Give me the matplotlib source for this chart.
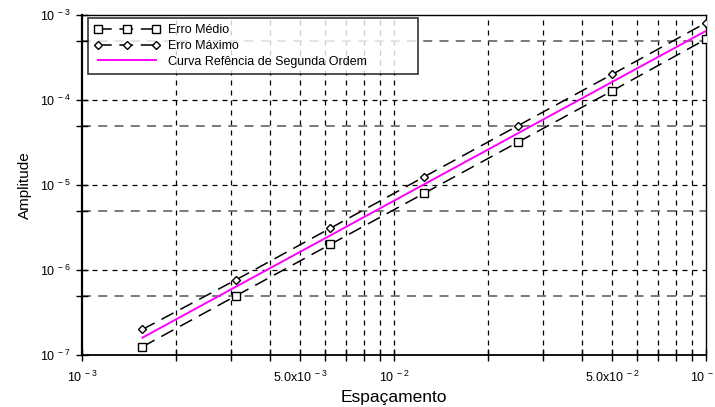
import matplotlib
matplotlib.use("Agg")
import matplotlib.pyplot as plt
from matplotlib.ticker import FixedLocator, NullFormatter

plt.rcParams['font.family'] = ['Liberation Sans', 'DejaVu Sans']
plt.rcParams['mathtext.fontset'] = 'custom'
plt.rcParams['mathtext.rm'] = 'Liberation Sans'
plt.rcParams['mathtext.it'] = 'Liberation Sans'
plt.rcParams['mathtext.default'] = 'regular'

# Data
espacamento = [0.0015625, 0.003125, 0.00625, 0.0125, 0.025, 0.05, 0.1]
erro_medio = [1.25e-7, 5.0e-7, 2.0e-6, 8.0e-6, 3.2e-5, 1.28e-4, 5.2e-4]
erro_maximo = [2.0e-7, 7.7e-7, 3.1e-6, 1.25e-5, 5.0e-5, 2.0e-4, 8.1e-4]
curva_ref = [1.6e-7, 6.4e-7, 2.55e-6, 1.02e-5, 4.07e-5, 1.63e-4, 6.5e-4]

x_major = [1e-3, 5e-3, 1e-2, 5e-2, 1e-1]
x_major_labels = ['$10^{\\ -3}$', '$5.0x10^{\\ -3}$', '$10^{\\ -2}$', '$5.0x10^{\\ -2}$', '$10^{\\ -1}$']
y_major = [1e-7, 1e-6, 1e-5, 1e-4, 1e-3]
y_major_labels = ['$10^{\\ -7}$', '$10^{\\ -6}$', '$10^{\\ -5}$', '$10^{\\ -4}$', '$10^{\\ -3}$']
y_half = [5e-7, 5e-6, 5e-5, 5e-4]

fig = plt.figure(figsize=(7.15, 4.07), dpi=100)
ax = fig.add_axes([0.1147, 0.1278, 0.8727, 0.8353])
ax.set_xscale('log')
ax.set_yscale('log')
ax.set_xlim(1e-3, 1e-1)
ax.set_ylim(1e-7, 1e-3)

# grid lines
x_minor = [m * d for d in (1e-3, 1e-2) for m in range(2, 10)]
for xv in x_minor + [1e-2]:
    ax.axvline(xv, color='black', lw=0.9, ls=(0, (4, 4)), zorder=1)
for yv in [1e-6, 1e-5, 1e-4]:
    ax.axhline(yv, color='black', lw=0.9, ls=(0, (4, 4)), zorder=1)
for yv in y_half:
    ax.axhline(yv, color='#707070', lw=1.3, ls=(0, (5, 4)), zorder=1)

dash = (0, (9, 5))
ax.plot(espacamento, erro_medio, color='black', lw=1.1, ls=dash, marker='s',
        ms=6, mfc='white', mec='black', mew=1.0, label='Erro Médio', zorder=3)
ax.plot(espacamento, erro_maximo, color='black', lw=1.1, ls=dash, marker='D',
        ms=4.2, mfc='white', mec='black', mew=1.0, label='Erro Máximo', zorder=3)
ax.plot(espacamento, curva_ref, color='#ff00ff', lw=1.4, ls='-',
        label='Curva Refência de Segunda Ordem', zorder=4)

ax.xaxis.set_major_locator(FixedLocator(x_major))
ax.set_xticklabels(x_major_labels)
ax.xaxis.set_minor_locator(FixedLocator(x_minor))
ax.xaxis.set_minor_formatter(NullFormatter())
ax.yaxis.set_major_locator(FixedLocator(y_major))
ax.set_yticklabels(y_major_labels)
ax.yaxis.set_minor_locator(FixedLocator(y_half))
ax.yaxis.set_minor_formatter(NullFormatter())

ax.tick_params(axis='both', which='both', direction='inout', length=8, width=1.0,
               labelsize=9, colors='black')
ax.tick_params(axis='x', which='major', pad=7)
ax.tick_params(axis='y', which='major', pad=4)
ax.tick_params(top=False, right=False)

for s in ax.spines.values():
    s.set_linewidth(1.0)
ax.spines['left'].set_linewidth(1.6)
ax.spines['bottom'].set_linewidth(1.3)

ax.set_xlabel('Espaçamento', fontsize=12.5, labelpad=3)
ax.set_ylabel('Amplitude', fontsize=11, labelpad=6)

leg = ax.legend(loc='upper left', bbox_to_anchor=(0.0096, 0.832, 0.529, 0.159),
                mode='expand', numpoints=3,
                fontsize=9, frameon=True, fancybox=False, edgecolor='black',
                handlelength=5.2, borderpad=0.5, labelspacing=0.3, handletextpad=0.7,
                borderaxespad=0.0)
leg.get_frame().set_linewidth(1.2)
leg.set_zorder(10)

fig.savefig('out.png', dpi=100, facecolor='white')
